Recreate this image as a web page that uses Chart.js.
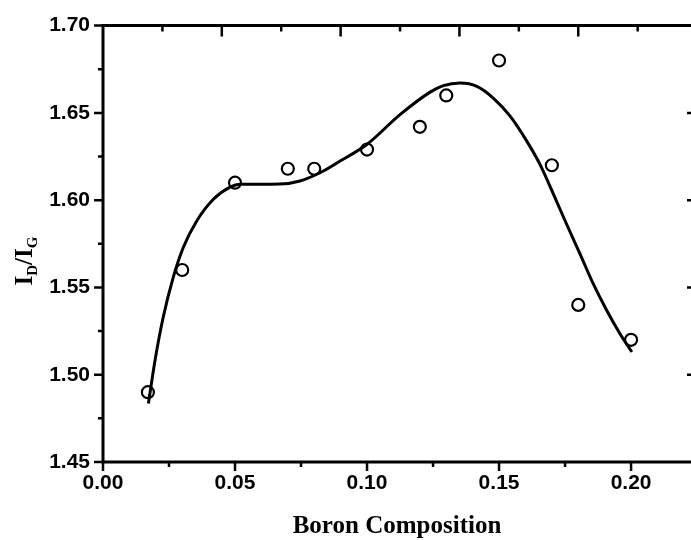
<!DOCTYPE html>
<html>
<head>
<meta charset="utf-8">
<script src="https://cdn.jsdelivr.net/npm/chart.js@4"></script>
<style>
  body { margin: 0; background: #fff; }
  #wrap { width: 691px; height: 540px; position: relative; }
</style>
</head>
<body>
<div id="wrap"><canvas id="chart"></canvas></div>
<script>
// measured points
const boron = [0.017, 0.03, 0.05, 0.07, 0.08, 0.10, 0.12, 0.13, 0.15, 0.17, 0.18, 0.20]
const ratio = [1.49, 1.56, 1.61, 1.618, 1.618, 1.629, 1.642, 1.66, 1.68, 1.62, 1.54, 1.52]

// fitted curve
const fitX = [0.0172, 0.0197, 0.0228, 0.0266, 0.0304, 0.0355, 0.0418, 0.0481, 0.0519, 0.0595, 0.067,
  0.0746, 0.0822, 0.0898, 0.0999, 0.1125, 0.1239, 0.1289, 0.1352, 0.1416, 0.1478, 0.1542, 0.1605,
  0.1655, 0.1706, 0.1756, 0.1807, 0.1857, 0.1908, 0.1958, 0.2003]
const fitY = [1.4835, 1.5082, 1.5329, 1.5558, 1.5729, 1.5881, 1.6005, 1.6075, 1.6091, 1.6091, 1.6092,
  1.611, 1.6157, 1.6224, 1.6319, 1.649, 1.6619, 1.6656, 1.6671, 1.6652, 1.6585, 1.6481, 1.6338,
  1.6205, 1.6034, 1.5862, 1.5691, 1.552, 1.5368, 1.5235, 1.513]

const xTicks = [0, 0.05, 0.10, 0.15, 0.20]
const yTicks = [1.45, 1.50, 1.55, 1.60, 1.65, 1.70]
const xMax = 0.2227
const topTickStep = 0.0225

const tickFont = { family: 'Liberation Sans', size: 21, weight: 'bold' }

const frame = {
  id: 'frame',
  afterDraw(chart) {
    const { ctx, chartArea: a, scales: { x, y } } = chart
    ctx.save()
    ctx.strokeStyle = '#000'
    ctx.fillStyle = '#000'

    // axis lines
    ctx.lineWidth = 3
    ctx.beginPath()
    ctx.moveTo(a.left, a.top - 1.5)
    ctx.lineTo(a.left, a.bottom + 1.5)
    ctx.moveTo(a.left, a.bottom)
    ctx.lineTo(a.right, a.bottom)
    ctx.moveTo(a.left, a.top)
    ctx.lineTo(a.right, a.top)
    ctx.stroke()

    ctx.lineWidth = 2.5
    ctx.beginPath()
    // bottom
    xTicks.forEach(v => {
      const px = x.getPixelForValue(v)
      ctx.moveTo(px, a.bottom); ctx.lineTo(px, a.bottom + 9)
      const m = x.getPixelForValue(v + 0.025)
      if (v + 0.025 < xMax) { ctx.moveTo(m, a.bottom); ctx.lineTo(m, a.bottom + 5) }
    })
    // left
    yTicks.forEach((v, i) => {
      const py = y.getPixelForValue(v)
      ctx.moveTo(a.left - 9, py); ctx.lineTo(a.left, py)
      if (i < yTicks.length - 1) {
        const m = y.getPixelForValue(v + 0.025)
        ctx.moveTo(a.left - 5, m); ctx.lineTo(a.left, m)
      }
    })
    // top
    for (let k = 1; k * topTickStep < xMax; k++) {
      const px = x.getPixelForValue(k * topTickStep)
      ctx.moveTo(px, a.top); ctx.lineTo(px, a.top + (k % 2 === 0 ? 11 : 6))
    }
    // right
    yTicks.slice(1, -1).forEach(v => {
      const py = y.getPixelForValue(v)
      ctx.moveTo(a.right - 4, py); ctx.lineTo(a.right, py)
    })
    ctx.stroke()

    // x title
    ctx.font = 'bold 25px "Liberation Serif"'
    ctx.textAlign = 'center'
    ctx.textBaseline = 'alphabetic'
    ctx.fillText('Boron Composition', (a.left + a.right) / 2, 533)

    // y title  I_D / I_G
    const big = 'bold 25px "Liberation Serif"'
    const small = 'bold 15px "Liberation Serif"'
    const parts = [['I', big, 0], ['D', small, 5], ['/I', big, 0], ['G', small, 5]]
    let total = 0
    parts.forEach(p => { ctx.font = p[1]; total += ctx.measureText(p[0]).width })
    ctx.translate(32, 261)
    ctx.rotate(-Math.PI / 2)
    ctx.textAlign = 'left'
    let cx = -total / 2
    parts.forEach(p => {
      ctx.font = p[1]
      ctx.fillText(p[0], cx, p[2])
      cx += ctx.measureText(p[0]).width
    })
    ctx.restore()
  }
}

new Chart(document.getElementById('chart'), {
  type: 'scatter',
  data: {
    datasets: [{
      label: 'fit',
      data: fitX.map((v, i) => ({ x: v, y: fitY[i] })),
      showLine: true,
      borderColor: '#000',
      borderWidth: 3,
      pointRadius: 0,
      cubicInterpolationMode: 'monotone'
    }, {
      label: 'data',
      data: boron.map((v, i) => ({ x: v, y: ratio[i] })),
      showLine: false,
      pointStyle: 'circle',
      pointRadius: 6,
      borderWidth: 2.2,
      borderColor: '#000',
      backgroundColor: 'rgba(0,0,0,0)'
    }]
  },
  options: {
    responsive: true,
    maintainAspectRatio: false,
    devicePixelRatio: 1,
    animation: false,
    layout: { autoPadding: false, padding: { top: 24, right: 0, left: 0, bottom: 0 } },
    plugins: { legend: { display: false }, tooltip: { enabled: false } },
    scales: {
      x: {
        type: 'linear',
        min: 0,
        max: xMax,
        afterBuildTicks: s => { s.ticks = xTicks.map(v => ({ value: v })) },
        afterFit: s => { s.height = 78; s.paddingRight = 0; s.paddingLeft = 0 },
        ticks: {
          color: '#000',
          font: tickFont,
          padding: 9,
          maxRotation: 0,
          callback: v => v.toFixed(2)
        },
        grid: { display: false, drawTicks: false },
        border: { display: false }
      },
      y: {
        min: 1.45,
        max: 1.70,
        afterBuildTicks: s => { s.ticks = yTicks.map(v => ({ value: v })) },
        afterFit: s => { s.width = 103 },
        ticks: {
          color: '#000',
          font: tickFont,
          padding: 13,
          callback: v => v.toFixed(2)
        },
        grid: { display: false, drawTicks: false },
        border: { display: false }
      }
    }
  },
  plugins: [frame]
})
</script>
</body>
</html>
